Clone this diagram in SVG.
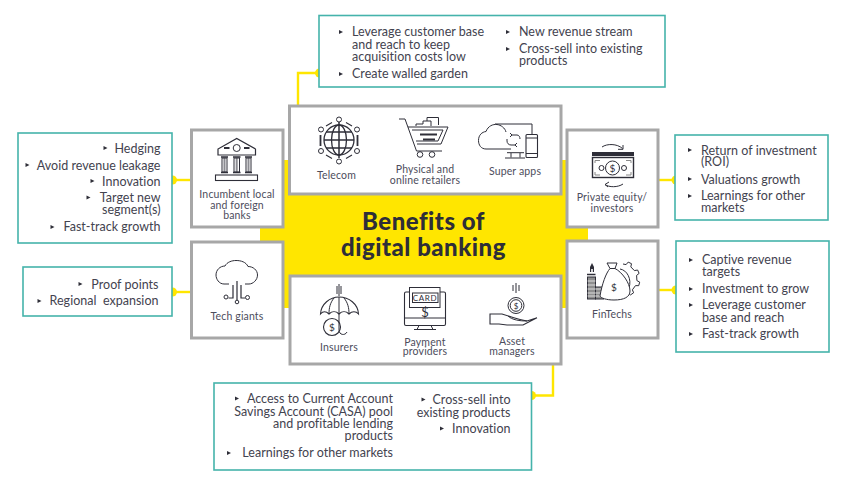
<svg xmlns="http://www.w3.org/2000/svg" width="852" height="486" viewBox="0 0 852 486">
<style>
text{font-family:"Lato","Liberation Sans",sans-serif;fill:#43434f}
.t{font-size:12.5px;letter-spacing:.02px}
.r{text-anchor:end}
.l{font-size:10.5px;letter-spacing:.15px;text-anchor:middle;fill:#4d4d5c}
.h{font-size:24px;font-weight:900;letter-spacing:.5px;text-anchor:middle;fill:#2e2e38}
.box{fill:#fff;stroke:#a7a7a7;stroke-width:3}
.tb{fill:#fff;stroke:#45b3ab;stroke-width:1.6}
.c{fill:none;stroke:#ffe600;stroke-width:2.4}
.d{fill:#ffe600}
.i{fill:none;stroke:#2e2e38;stroke-width:1}
.ik{fill:#2e2e38;stroke:none}
.s{fill:#2e2e38;text-anchor:middle}
</style>
<defs><polygon id="b" points="0,-2 4,0 0,2" fill="#2e2e38"/></defs>
<g id="background">
<rect x="283" y="160" width="284" height="148" fill="#ffe600"/>
<rect x="260" y="228" width="328" height="14" fill="#ffe600"/>
</g>
<g id="connectors">
<path class="c" d="M298 106V73H319"/><circle class="d" cx="319.500" cy="73" r="4.500"/>
<path class="c" d="M172 180H191"/><circle class="d" cx="172.500" cy="180" r="4.500"/>
<path class="c" d="M172 292H191"/><circle class="d" cx="172.500" cy="292" r="4.500"/>
<path class="c" d="M658 180H676"/><circle class="d" cx="676" cy="180" r="4.500"/>
<path class="c" d="M658 290H676"/><circle class="d" cx="676" cy="290" r="4.500"/>
<path class="c" d="M553 364V395.500H531"/><circle class="d" cx="531.500" cy="395.500" r="4.500"/>
</g>
<g id="title"><text class="h" x="423.500" y="229.500">Benefits of</text><text class="h" x="423.500" y="255.500">digital banking</text></g>

<g id="notes-top">
<rect class="tb" x="319" y="15.500" width="346" height="71.500"/>
<use href="#b" x="339" y="32"/><text class="t" x="352" y="36">Leverage customer base<tspan x="352" y="49">and reach to keep</tspan><tspan x="352" y="61">acquisition costs low</tspan></text>
<use href="#b" x="339" y="74"/><text class="t" x="352" y="78">Create walled garden</text>
<use href="#b" x="506" y="32"/><text class="t" x="519" y="36">New revenue stream</text>
<use href="#b" x="506" y="49"/><text class="t" x="519" y="53">Cross-sell into existing<tspan x="519" y="65">products</tspan></text>
</g>
<g id="notes-banks">
<rect class="tb" x="18" y="133" width="154" height="110"/>
<use href="#b" x="103.500" y="148"/><text class="t r" x="160.500" y="153">Hedging</text>
<use href="#b" x="25.500" y="165"/><text class="t r" x="160.500" y="170">Avoid revenue leakage</text>
<use href="#b" x="90.500" y="181"/><text class="t r" x="160.500" y="186">Innovation</text>
<use href="#b" x="86.500" y="197.500"/><text class="t r" x="160.500" y="202">Target new<tspan x="160.500" y="214">segment(s)</tspan></text>
<use href="#b" x="50.500" y="227"/><text class="t r" x="160.500" y="231">Fast-track growth</text>
</g>
<g id="notes-tech">
<rect class="tb" x="23" y="267" width="149" height="49"/>
<use href="#b" x="78.500" y="284"/><text class="t r" x="158.500" y="289">Proof points</text>
<use href="#b" x="37.500" y="301"/><text class="t r" x="158.500" y="305" style="white-space:pre">Regional  expansion</text>
</g>
<g id="notes-equity">
<rect class="tb" x="675" y="135" width="153" height="85"/>
<use href="#b" x="688" y="150"/><text class="t" x="701" y="154.500">Return of investment<tspan x="701" y="166">(ROI)</tspan></text>
<use href="#b" x="688" y="179"/><text class="t" x="701" y="183.500">Valuations growth</text>
<use href="#b" x="688" y="196"/><text class="t" x="701" y="200">Learnings for other<tspan x="701" y="212">markets</tspan></text>
</g>
<g id="notes-fintech">
<rect class="tb" x="676" y="241" width="153" height="111"/>
<use href="#b" x="689" y="260"/><text class="t" x="702" y="264">Captive revenue<tspan x="702" y="276">targets</tspan></text>
<use href="#b" x="689" y="289"/><text class="t" x="702" y="293">Investment to grow</text>
<use href="#b" x="689" y="305"/><text class="t" x="702" y="309">Leverage customer<tspan x="702" y="322">base and reach</tspan></text>
<use href="#b" x="689" y="334"/><text class="t" x="702" y="338">Fast-track growth</text>
</g>
<g id="notes-bottom">
<rect class="tb" x="214" y="383" width="317.500" height="87"/>
<use href="#b" x="235" y="398.500"/><text class="t r" x="393" y="403">Access to Current Account<tspan x="393" y="416">Savings Account (CASA) pool</tspan><tspan x="393" y="428">and profitable lending</tspan><tspan x="393" y="440">products</tspan></text>
<use href="#b" x="227" y="453"/><text class="t r" x="393" y="457">Learnings for other markets</text>
<use href="#b" x="421.500" y="399.500"/><text class="t r" x="510.500" y="404">Cross-sell into<tspan x="510.500" y="417">existing products</tspan></text>
<use href="#b" x="440" y="428.500"/><text class="t r" x="510.500" y="433">Innovation</text>
</g>

<g id="node-top">
<rect class="box" x="289.500" y="106" width="271.500" height="88"/>
<g id="icon-telecom" class="i">
<circle cx="339" cy="140" r="15" stroke-width="1.300"/><ellipse cx="339" cy="140" rx="7.500" ry="15" stroke-width="1.300"/>
<path d="M339 122V158M324 140H354M326 132H352M326 148H352" stroke-width="1.500"/>
<circle cx="339" cy="119.500" r="2.500"/><circle cx="339" cy="161.500" r="2.500"/>
<circle cx="321" cy="129.500" r="2.500"/><circle cx="357" cy="129.500" r="2.500"/><circle cx="321" cy="151" r="2.500"/><circle cx="357" cy="151" r="2.500"/>
<path d="M326 126L332 122.500M346 122.500L352 126M326 155L332 158.500M346 158.500L352 155" stroke-width="1.100"/>
<path d="M320.500 135V146M357.500 135V146" stroke-width="1.800"/>
</g>
<g id="icon-cart" class="i">
<path d="M399 119H405L416.500 151H442"/>
<path d="M408 127H448L441 144H417M412 130H443L438 141H416"/>
<path d="M416 126V124H423V121H431V126M427 121V117.500H438.500V125"/>
<path d="M420 134.500H437M423 139.500H435" stroke-width="1.800"/>
<circle cx="420" cy="154.500" r="2.800"/><circle cx="432" cy="154.500" r="2.800"/>
</g>
<g id="icon-super" class="i">
<path d="M511 149H486C481 149 478.500 145 478.500 140.500C478.500 135 482 132 486 131.500C488 126 493 124 497 124.500C501 125 505 128 506 132"/>
<path d="M495 124H532V134M507 152.700H524M511 153V157.500M520 153V157.500M505 158H525"/>
<rect x="526" y="134.500" width="11.500" height="23" rx="1" stroke-width="1.100"/>
<path d="M526 138H537.500M526 153.500H537.500"/>
<path d="M512 135H517C519 135 520 137 520 139M515 145H511C508.500 145 507 143 507 141V139"/>
<path d="M510 133L512 135L510 137M517 143L515 145L517 147"/>
</g>
<text class="l" x="336.500" y="179">Telecom</text>
<text class="l" x="425" y="173">Physical and<tspan x="425" y="184">online retailers</tspan></text>
<text class="l" x="515" y="175">Super apps</text>
</g>

<g id="node-banks">
<rect class="box" x="191.500" y="130" width="91.500" height="97"/>
<g id="icon-bank" class="i">
<path d="M218 155V149L236.700 138.500L255.500 149V155Z" stroke-width="1.200"/><circle cx="236.700" cy="148" r="3.500"/>
<path d="M224 148H229.500M244 148H249.500" stroke-width="1.800"/>
<path d="M221 157H228M233 157H240.500M245 157H252M221 172.500H228M233 172.500H240.500M245 172.500H252" stroke-width="1.500"/>
<rect x="222" y="158" width="5" height="14"/><rect x="234" y="158" width="5.500" height="14"/><rect x="246" y="158" width="5" height="14"/>
<path class="ik" style="opacity:.55" d="M223.500 158h2v14h-2zM235.700 158h2v14h-2zM247.500 158h2v14h-2z"/>
<rect x="215.500" y="175" width="42" height="5.500" stroke-width="1.100"/>
</g>
<text class="l" x="237" y="198">Incumbent local<tspan x="237" y="208.500">and foreign</tspan><tspan x="237" y="219">banks</tspan></text>
</g>

<g id="node-tech">
<rect class="box" x="191.500" y="242" width="91.500" height="96"/>
<g id="icon-cloud" class="i">
<path d="M229 284H224C219 284 216 279 216 275C216 270 220 266 225 266C227 262 232 260.500 236 260.500C241 260.500 246 262 248 266.500C253 266.500 257.500 270 257.500 275C257.500 280 253 284 249 284H245"/>
<path d="M233 285V298H228.500M241 285V298H245M237 281V300" stroke-width="1.200"/>
<circle cx="226" cy="297" r="2"/><circle cx="247.500" cy="297.500" r="2"/><circle cx="237" cy="302" r="1.800"/>
</g>
<text class="l" x="237" y="320">Tech giants</text>
</g>

<g id="node-equity">
<rect class="box" x="567" y="130" width="91" height="97"/>
<g id="icon-money" class="i">
<rect class="ik" x="592" y="152" width="42" height="4"/>
<rect x="592.500" y="157.500" width="41" height="20" stroke-width="1.400"/>
<path d="M595 163V160.500H600M626 160.500H631V163M595 172V175H600M626 175H631V172" stroke="#888"/>
<circle cx="612.500" cy="168" r="7"/><circle cx="601.500" cy="168" r="2.500"/><circle cx="624" cy="168" r="2.500"/>
<path d="M602 147C607 143.500 617 143.500 622.500 148.500M605 184.500C609 187.500 618 187.500 623 184"/>
<path d="M618 149.300H623V145M609 182L605 184.500L608 187"/>
</g>
<text class="s" x="612.500" y="172" font-size="10">$</text>
<text class="l" x="612" y="201">Private equity/<tspan x="612" y="212">investors</tspan></text>
</g>

<g id="node-fintech">
<rect class="box" x="567" y="241" width="91" height="97"/>
<g id="icon-fintech" class="i">
<path d="M623 264L626.100 264.600L628.200 262.100L631.500 263.700L630.800 266.900L634.400 270.600L637.600 270L639.100 273.400L636.600 275.400L636.900 280.600L639.700 282.100L638.700 285.700L635.500 285.600L632.400 289.800L633.600 292.800L630.500 294.900L628.100 292.700L623 294"/>
<path d="M620 269C627 270 632 279 629 288"/>
<rect x="587.500" y="277" width="8" height="22" fill="#8f8f8f"/><rect x="595.500" y="287" width="8" height="12" fill="#8f8f8f"/>
<path d="M587.500 281H595.500M587.500 285H595.500M587.500 289H603.500M587.500 293H603.500M587.500 296H603.500" stroke="#fff" stroke-width=".7"/>
<path class="ik" d="M590 272V267L592 263L594 267V272H592.800V269H591.200V272Z"/>
<path d="M587 274.500H595.500" stroke-width="1.500"/>
<path d="M607 263H617L615 268.500C622 272 630 283 630 291C630 297 624 300 614 300C606 300 601 298 600 296C602 284 606 273 610 268.500Z" fill="#fff"/>
<path d="M610 268.500H615"/>
</g>
<text class="s" x="614" y="291" font-size="10">$</text>
<text class="l" x="612" y="318">FinTechs</text>
</g>

<g id="node-bottom">
<rect class="box" x="290" y="276" width="271" height="88"/>
<g id="icon-insurers" class="i">
<path d="M339 284V296M341 286V294M337 286V294"/>
<path d="M320.500 314C321 304 330 297 339 297C349 297 358 304 358.500 314C356 311 352 311 349 314C346 311 342 311 339 314C336 311 332 311 329 314C326 311 323 311 320.500 314Z" stroke-width="1.100"/>
<path d="M334 298C330 303 329 308 329 314M344 298C348 303 349 308 349 314M339 297V318"/>
<circle cx="332" cy="327" r="8.500" stroke-width="1.100"/><path d="M339 318V330C339 335 345 336 347 332"/>
</g>
<text class="s" x="332" y="331" font-size="10">$</text>
<g id="icon-card" class="i">
<rect x="404.500" y="292" width="41" height="33.500" rx="1.500" stroke-width="1.100"/>
<rect x="409.500" y="287.500" width="30.500" height="20" fill="#fff"/>
<rect x="412.500" y="293" width="25.500" height="9.500"/>
<path d="M404.500 318H445.500M419 325.500L417 329.500H433L431 325.500M414 329.500H436M409 307.500H420M430 307.500H440"/>
</g>
<text class="s" x="425" y="301" font-size="8" letter-spacing=".6">CARD</text>
<text class="s" x="425" y="316.500" font-size="13">$</text>
<g id="icon-asset" class="i">
<path d="M516 283V293M519 285V291M513 285V291"/>
<circle cx="516" cy="305.500" r="8"/><circle cx="516" cy="305.500" r="5.800"/>
<path d="M490 314H502L513 317.500C518 319 522 320 527 321L537 317.700L523 325H507L499 324H490Z" stroke-width="1.100"/>
<path d="M508 316C512 320 520 321 527 321"/>
</g>
<text class="s" x="516" y="308.500" font-size="8">$</text>
<text class="l" x="339" y="351">Insurers</text>
<text class="l" x="425" y="345.500">Payment<tspan x="425" y="355">providers</tspan></text>
<text class="l" x="512" y="344.500">Asset<tspan x="512" y="354.500">managers</tspan></text>
</g>
</svg>
